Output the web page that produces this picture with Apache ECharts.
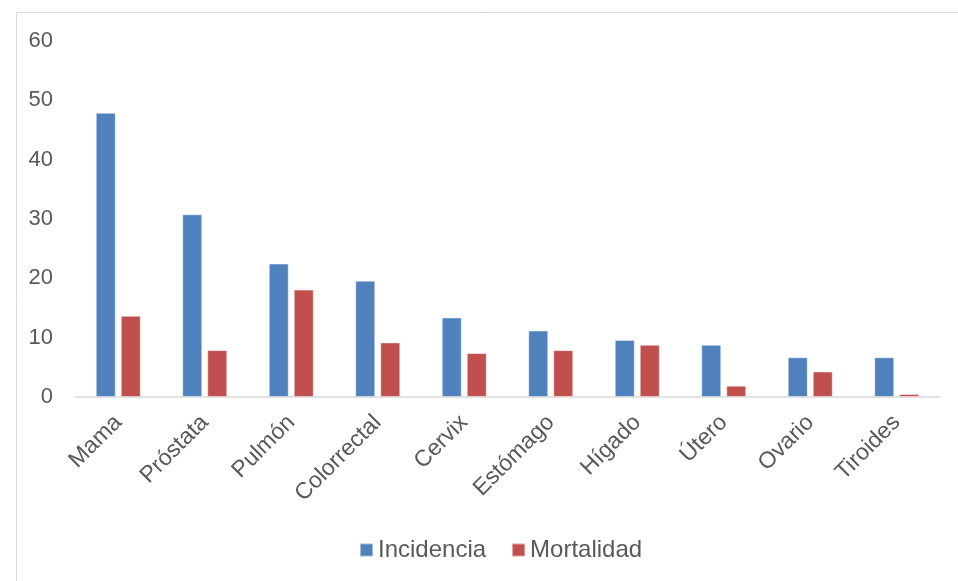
<!DOCTYPE html>
<html>
<head>
<meta charset="utf-8">
<script src="https://cdn.jsdelivr.net/npm/echarts@6/dist/echarts.min.js"></script>
<style>
  html, body { margin: 0; padding: 0; background: #fff; }
  #main { width: 958px; height: 581px; }
</style>
</head>
<body>
<div id="main"></div>
<script>
// datos
var categorias = ['Mama', 'Próstata', 'Pulmón', 'Colorrectal', 'Cervix', 'Estómago', 'Hígado', 'Útero', 'Ovario', 'Tiroides'];
var incidencia = [47.9, 30.8, 22.5, 19.6, 13.4, 11.2, 9.6, 8.8, 6.7, 6.7];
var mortalidad = [13.7, 7.9, 18.1, 9.2, 7.4, 7.9, 8.8, 1.9, 4.3, 0.5];

var myChart = echarts.init(document.getElementById('main'));

var fuente = '"Liberation Sans", Arial, sans-serif';

var option = {
    animation: false,
    color: ['#4F81BD', '#C0504D'],
    textStyle: { fontFamily: fuente },
    graphic: [{
        type: 'rect',
        shape: { x: 16.5, y: 12.5, width: 960, height: 600 },
        style: { fill: 'none', stroke: '#d9d9d9', lineWidth: 1 },
        silent: true
    }],
    legend: {
        bottom: 14,
        left: 354,
        itemWidth: 13,
        itemHeight: 13,
        itemGap: 25,
        icon: 'rect',
        textStyle: { color: '#595959', fontSize: 24, fontFamily: fuente },
        data: ['Incidencia', 'Mortalidad']
    },
    grid: {
        left: 75,
        right: 18,
        top: 41,
        bottom: 184
    },
    xAxis: {
        type: 'category',
        data: categorias,
        axisLine: { lineStyle: { color: '#d9d9d9', width: 1.5 } },
        axisTick: { show: false },
        axisLabel: {
            rotate: 45,
            margin: 22,
            interval: 0,
            color: '#595959',
            fontSize: 23,
            fontFamily: fuente
        }
    },
    yAxis: {
        type: 'value',
        min: 0,
        max: 60,
        interval: 10,
        splitLine: { show: false },
        axisLine: { show: false },
        axisTick: { show: false },
        axisLabel: {
            margin: 22,
            color: '#595959',
            fontSize: 22,
            fontFamily: fuente
        }
    },
    series: [
        {
            name: 'Incidencia',
            type: 'bar',
            data: incidencia,
            barWidth: 20,
            barGap: '25%',
            itemStyle: { borderColor: 'rgba(255,255,255,0.45)', borderWidth: 1 }
        },
        {
            name: 'Mortalidad',
            type: 'bar',
            data: mortalidad,
            barWidth: 20,
            barGap: '25%',
            itemStyle: { borderColor: 'rgba(255,255,255,0.45)', borderWidth: 1 }
        }
    ]
};

myChart.setOption(option);
</script>
</body>
</html>
